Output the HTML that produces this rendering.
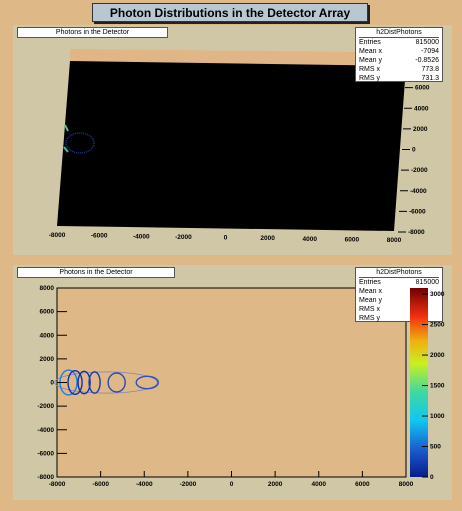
<!DOCTYPE html>
<html><head><meta charset="utf-8"><style>
body{margin:0;width:462px;height:511px;background:#dfb887;font-family:"Liberation Sans",sans-serif;overflow:hidden;position:relative}
.abs{position:absolute}
.box{background:#fff;border:1px solid #555;font-size:7px;box-sizing:border-box}
</style></head><body>
<div class="abs" style="left:92px;top:3px;width:276px;height:19px;background:#b9c7d3;border:1px solid #333;box-shadow:2px 2px 0 #222;font-weight:bold;font-size:12px;text-align:center;line-height:19px;box-sizing:border-box">Photon Distributions in the Detector Array</div>
<div class="abs" style="left:13px;top:25px;width:439px;height:230px;background:#cfc7a6"></div>
<div class="abs" style="left:13px;top:265px;width:439px;height:235px;background:#cfc7a6"></div>
<svg class="abs" style="left:0;top:0" width="462" height="511">
<polygon points="70,49 355,52 405,56 405,66 70,62" fill="#e0b686"/>
<polygon points="70,61 406,66 394,231 57,226" fill="#000"/>
<g id="topaxes"></g>
<g id="bottom"></g>
</svg>
<div class="abs box" style="left:17px;top:27px;width:151px;height:11px;text-align:center;line-height:10px">Photons in the Detector</div>
<div class="abs box" style="left:355px;top:27px;width:88px;height:55px;padding:0 3px;line-height:9px">
<div style="text-align:center;border-bottom:1px solid #555">h2DistPhotons</div>
<div style="display:flex;justify-content:space-between"><span>Entries</span><span>815000</span></div>
<div style="display:flex;justify-content:space-between"><span>Mean x</span><span>-7094</span></div>
<div style="display:flex;justify-content:space-between"><span>Mean y</span><span>-0.8526</span></div>
<div style="display:flex;justify-content:space-between"><span>RMS x</span><span>773.8</span></div>
<div style="display:flex;justify-content:space-between"><span>RMS y</span><span>731.3</span></div></div>
<div class="abs box" style="left:17px;top:267px;width:158px;height:11px;text-align:center;line-height:10px">Photons in the Detector</div>
<div class="abs box" style="left:355px;top:267px;width:88px;height:55px;padding:0 3px;line-height:9px">
<div style="text-align:center;border-bottom:1px solid #555">h2DistPhotons</div>
<div style="display:flex;justify-content:space-between"><span>Entries</span><span>815000</span></div>
<div>Mean x</div><div>Mean y</div><div>RMS x</div><div>RMS y</div></div>
<svg class="abs" style="left:0;top:0" width="462" height="511">
<defs><linearGradient id="pal" x1="0" y1="1" x2="0" y2="0">
<stop offset="0" stop-color="#0a1a8a"/><stop offset="0.15" stop-color="#1a5fd0"/><stop offset="0.3" stop-color="#10c8f0"/><stop offset="0.45" stop-color="#40d8a0"/><stop offset="0.6" stop-color="#c8f020"/><stop offset="0.72" stop-color="#f0b010"/><stop offset="0.85" stop-color="#f03010"/><stop offset="1" stop-color="#700000"/></linearGradient></defs>
<rect x="410" y="288" width="18" height="189" fill="url(#pal)"/>
<g id="cbticks"></g>
</svg>
<script>
const xTicks=[-8000,-6000,-4000,-2000,0,2000,4000,6000,8000];
const yTicks=[-8000,-6000,-4000,-2000,0,2000,4000,6000,8000];
const ringCx=[-7471,-7172,-6758,-6276,-5264,-3862];
const ringRx=[391,322,276,253,391,506];
const ringRy=[1050,1000,950,900,800,520];
const ringColor=["#1b7fe0","#1030b0","#1030a8","#2238a8","#2a48b0","#3050b8"];
const cbTicks=[0,500,1000,1500,2000,2500,3000];
const ns="http://www.w3.org/2000/svg";
function mk(t,a,p){const e=document.createElementNS(ns,t);for(const k in a)e.setAttribute(k,a[k]);p.appendChild(e);return e;}
const X0=57,X1=406,Y0=477,Y1=288;
const sx=v=>X0+(v+8000)/16000*(X1-X0);
const sy=v=>Y0-(v+8000)/16000*(Y0-Y1);
const g=document.getElementById('bottom');
let r=mk('rect',{x:X0,y:Y1,width:X1-X0,height:Y0-Y1,fill:'#dfb887',stroke:'#000','stroke-width':1},g);


let env=mk('ellipse',{cx:sx(-5750),cy:sy(0),rx:sx(-3400)-sx(-5750),ry:sy(-900)-sy(0),fill:'none',stroke:'#8080c0','stroke-width':0.8},g);


for(let i=0;i<ringCx.length;i++){
 const e=mk('ellipse',{cx:sx(ringCx[i]),cy:sy(0),rx:sx(ringCx[i]+ringRx[i])-sx(ringCx[i]),ry:sy(-ringRy[i])-sy(0),fill:'none',stroke:ringColor[i],'stroke-width':1.4},g);
 
 
}
xTicks.forEach(v=>{mk('line',{x1:sx(v),x2:sx(v),y1:Y0,y2:Y0-6,stroke:'#000'},g);
 const t=mk('text',{x:sx(v),y:Y0+9,'font-size':6.5,'text-anchor':'middle','font-weight':'bold'},g);t.textContent=v;
 
 });
yTicks.forEach(v=>{mk('line',{x1:X0,x2:X0+10,y1:sy(v),y2:sy(v),stroke:'#000'},g);
 const t=mk('text',{x:X0-3,y:sy(v)+2,'font-size':6.5,'text-anchor':'end','font-weight':'bold'},g);t.textContent=v;
 
 });
const cb=document.getElementById('cbticks');
cbTicks.forEach(v=>{const y=477-v/3100*189;mk('line',{x1:422,x2:428,y1:y,y2:y,stroke:'#000'},cb);
 const t=mk('text',{x:430,y:y+2,'font-size':6.5,'font-weight':'bold'},cb);t.textContent=v;
 
 });
const ta=document.getElementById('topaxes');
xTicks.forEach(v=>{const x=57+(v+8000)/16000*(394-57);const y=226+(v+8000)/16000*5;
 const t=mk('text',{x:x,y:y+11,'font-size':6.5,'text-anchor':'middle','font-weight':'bold'},ta);t.textContent=v;
 
 });
yTicks.forEach(v=>{const y=232-(v+8000)/16000*(232-67);const x=398+(v+8000)/16000*8;
 mk('line',{x1:x,x2:x+8,y1:y,y2:y,stroke:'#000'},ta);
 const t=mk('text',{x:x+10,y:y+2,'font-size':6.5,'font-weight':'bold'},ta);t.textContent=v;
 
 });
const hot=mk('ellipse',{cx:80,cy:143,rx:14,ry:10,fill:'none',stroke:'#1a3a90','stroke-width':1.5,'stroke-dasharray':'1 1'},ta);


mk('path',{d:'M65,125 L68,131 M64,147 L68,152',stroke:'#40c0a0','stroke-width':2},ta);
</script>
</body></html>
